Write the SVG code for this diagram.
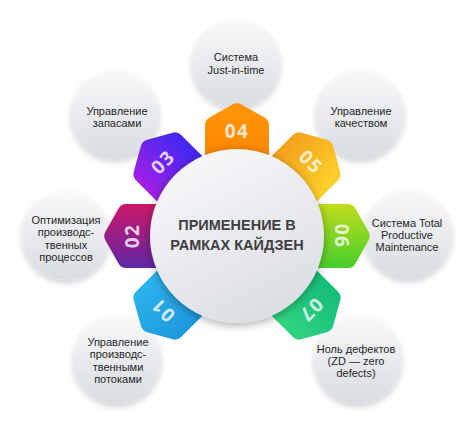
<svg xmlns="http://www.w3.org/2000/svg" width="474" height="421" viewBox="0 0 474 421">
<defs>
<style>
.oc{fill:url(#gOuter);filter:url(#shO)}
.ot{font-family:"Liberation Sans",Arial,sans-serif;font-size:11px;fill:#262626;text-anchor:middle}
.num{font-family:"Open Sans","Liberation Sans",sans-serif;font-weight:700;font-size:19px;fill:#fff;fill-opacity:.8;text-anchor:middle;letter-spacing:1.5px}
.mt{font-family:"Liberation Sans",Arial,sans-serif;font-weight:700;font-size:14.5px;fill:#3f3f42;text-anchor:middle}
</style>
<linearGradient id="gOuter" x1="0" y1="0" x2="0" y2="1"><stop offset="0" stop-color="#f8f9fa"/><stop offset="1" stop-color="#d9dce1"/></linearGradient>
<linearGradient id="gMain" x1="0.2" y1="0" x2="0.7" y2="1"><stop offset="0" stop-color="#f9f9fb"/><stop offset="1" stop-color="#dadde2"/></linearGradient>
<linearGradient id="p1" x1="0" y1="0" x2="1" y2="0"><stop offset="0" stop-color="#1e97dd"/><stop offset="1" stop-color="#2cb3ec"/></linearGradient>
<linearGradient id="p2" x1="0" y1="0" x2="1" y2="0"><stop offset="0" stop-color="#5f27a6"/><stop offset="1" stop-color="#cc1866"/></linearGradient>
<linearGradient id="p3" x1="0" y1="0" x2="1" y2="0"><stop offset="0" stop-color="#a21fe6"/><stop offset="1" stop-color="#3e27f1"/></linearGradient>
<linearGradient id="p4" x1="0" y1="0" x2="0" y2="1"><stop offset="0" stop-color="#ff9606"/><stop offset="1" stop-color="#ff8200"/></linearGradient>
<linearGradient id="p5" x1="0" y1="0" x2="1" y2="0"><stop offset="0" stop-color="#f5a11c"/><stop offset="1" stop-color="#fdd22c"/></linearGradient>
<linearGradient id="p6" x1="0" y1="0" x2="1" y2="0"><stop offset="0" stop-color="#c2dd1c"/><stop offset="1" stop-color="#45cf2c"/></linearGradient>
<linearGradient id="p7" x1="0" y1="0" x2="1" y2="0"><stop offset="0" stop-color="#14bd78"/><stop offset="1" stop-color="#30d482"/></linearGradient>
<filter id="shO" x="-30%" y="-30%" width="160%" height="170%"><feDropShadow dx="0" dy="3" stdDeviation="3" flood-color="#000" flood-opacity="0.18"/></filter>
<filter id="shM" x="-30%" y="-30%" width="160%" height="160%"><feDropShadow dx="0" dy="2" stdDeviation="5" flood-color="#000" flood-opacity="0.35"/></filter>
<path id="petal" d="M -32,-60 L -32,-111 Q -32,-116 -27.5,-118.5 L -4.5,-131.5 Q 0,-134 4.5,-131.5 L 27.5,-118.5 Q 32,-116 32,-111 L 32,-60 Z"/>
</defs>
<rect width="474" height="421" fill="#ffffff"/>

<g id="node-jit"><circle class="oc" cx="236" cy="64" r="44"/>
<text class="ot" x="236" y="61">Система</text><text class="ot" x="236" y="74">Just-in-time</text></g>
<g id="node-quality"><circle class="oc" cx="360" cy="115" r="44"/>
<text class="ot" x="361" y="115">Управление</text><text class="ot" x="361" y="127">качеством</text></g>
<g id="node-tpm"><circle class="oc" cx="408" cy="235" r="44"/>
<text class="ot" x="407" y="227">Система Total</text><text class="ot" x="407" y="239">Productive</text><text class="ot" x="407" y="251">Maintenance</text></g>
<g id="node-zd"><circle class="oc" cx="358" cy="360" r="44"/>
<text class="ot" x="356" y="353">Ноль дефектов</text><text class="ot" x="356" y="365">(ZD — zero</text><text class="ot" x="356" y="377">defects)</text></g>
<g id="node-flow"><circle class="oc" cx="117" cy="360" r="44"/>
<text class="ot" x="118" y="346">Управление</text><text class="ot" x="118" y="358">производс-</text><text class="ot" x="118" y="371">твенными</text><text class="ot" x="118" y="383">потоками</text></g>
<g id="node-opt"><circle class="oc" cx="66" cy="236" r="44"/>
<text class="ot" x="66" y="224">Оптимизация</text><text class="ot" x="66" y="236">производс-</text><text class="ot" x="66" y="249">твенных</text><text class="ot" x="66" y="261">процессов</text></g>
<g id="node-stock"><circle class="oc" cx="115" cy="115" r="44"/>
<text class="ot" x="117" y="115">Управление</text><text class="ot" x="117" y="127">запасами</text></g>

<g id="connectors">
<g id="petal-01" transform="translate(237 236) rotate(225)"><use href="#petal" fill="url(#p1)"/><text class="num" x="0" y="-98">01</text></g>
<g id="petal-02" transform="translate(237 236) rotate(270)"><use href="#petal" fill="url(#p2)"/><text class="num" x="0" y="-98">02</text></g>
<g id="petal-03" transform="translate(237 236) rotate(315)"><use href="#petal" fill="url(#p3)"/><text class="num" x="0" y="-98">03</text></g>
<g id="petal-04" transform="translate(237 236) rotate(0)"><use href="#petal" fill="url(#p4)"/><text class="num" x="0" y="-98">04</text></g>
<g id="petal-05" transform="translate(237 236) rotate(45)"><use href="#petal" fill="url(#p5)"/><text class="num" x="0" y="-98">05</text></g>
<g id="petal-06" transform="translate(237 236) rotate(90)"><use href="#petal" fill="url(#p6)"/><text class="num" x="0" y="-98">06</text></g>
<g id="petal-07" transform="translate(237 236) rotate(135)"><use href="#petal" fill="url(#p7)"/><text class="num" x="0" y="-98">07</text></g>
</g>

<g id="node-center"><circle cx="237" cy="236" r="87" fill="url(#gMain)" filter="url(#shM)"/>
<text class="mt" x="237" y="230">ПРИМЕНЕНИЕ В</text><text class="mt" x="237" y="250">РАМКАХ КАЙДЗЕН</text></g>
</svg>
